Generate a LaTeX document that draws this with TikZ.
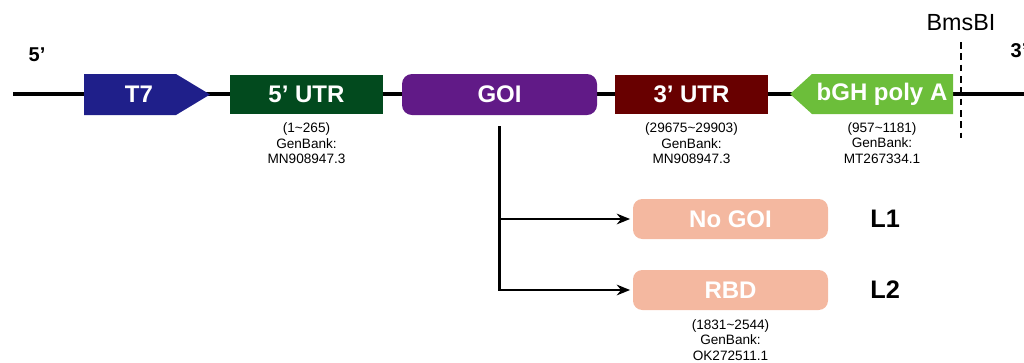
\documentclass[tikz,border=0pt]{standalone}
\usepackage{fontspec}
\setmainfont{Liberation Sans}
\usetikzlibrary{arrows.meta, positioning}
\definecolor{tSevenBlue}{RGB}{31,31,138}
\definecolor{utrFiveGreen}{RGB}{2,74,30}
\definecolor{goiPurple}{RGB}{97,26,135}
\definecolor{utrThreeRed}{RGB}{104,0,0}
\definecolor{polyAGreen}{RGB}{108,190,58}
\definecolor{constructSalmon}{RGB}{244,184,160}
\tikzset{
    backbone/.style={draw=black, line width=2.6pt},
    element/.style={text=white, inner sep=0pt, minimum height=29.5pt, font=\bfseries\fontsize{18}{21}\selectfont},
    square box/.style={element, rectangle, minimum width=114.75pt},
    round box/.style={element, rectangle, rounded corners=7.5pt, minimum width=146.25pt, minimum height=30.75pt},
    note/.style={align=center, inner sep=0pt, font=\fontsize{10.2}{11.7}\selectfont},
    cut line/.style={draw=black, line width=1pt, dash pattern=on 5pt off 3.5pt},
    branch/.style={draw=black, line width=1.7pt, -{Stealth[length=10pt, width=8pt]}, shorten >=2pt},
    end label/.style={font=\bfseries\fontsize{15}{18}\selectfont},
    lane label/.style={font=\bfseries\fontsize{19}{22}\selectfont}
}

\begin{document}
\begin{tikzpicture}[x=0.75pt, y=-0.75pt]
    % Fix the page to the size of the figure
    \useasboundingbox (0,0) rectangle (1024,362);

    % Draw the backbone
    \coordinate (left end) at (13,94);
    \coordinate (right end) at (1030,94);
    \draw[backbone] (left end) -- (right end);

    % Draw the T7 promoter and the bGH poly A as arrows
    \fill[tSevenBlue] (84,74) -- (176,74) -- (210,94.5) -- (176,115) -- (84,115) -- cycle;
    \node[element] (t7) at (139,94.5) {T7};
    \fill[polyAGreen] (953,74) -- (812,74) -- (790,94) -- (812,114) -- (953,114) -- cycle;
    \node[element] (polyA) at (882,94) {bGH poly A};

    % Draw the boxes on the backbone
    \node[square box, fill=utrFiveGreen] (utr5) at (306.5,94.5) {5' UTR};
    \node[round box, fill=goiPurple] (goi) at (499.5,94.5) {GOI};
    \node[square box, fill=utrThreeRed] (utr3) at (691.5,94.5) {3' UTR};

    % Sources of the sequences
    \node[note, below=6pt of utr5] (utr5 src) {(1\textasciitilde265)\\GenBank:\\MN908947.3};
    \node[note, below=6pt of utr3] (utr3 src) {(29675\textasciitilde29903)\\GenBank:\\MN908947.3};
    \node[note, below=6pt of polyA] (polyA src) {(957\textasciitilde1181)\\GenBank:\\MT267334.1};

    % BmsBI site
    \coordinate (cut top) at (961,42);
    \coordinate (cut bottom) at (961,138);
    \draw[cut line] (cut top) -- (cut bottom);
    \node[font=\fontsize{17.5}{20}\selectfont] (bsmbi) at (961,23) {BmsBI};

    % Ends of the strand
    \node[end label] (five end) at (37,55) {5'};
    \node[end label, anchor=west] (three end) at (1006,51) {3'};

    % Draw the two constructs
    \node[round box, fill=constructSalmon, minimum height=30pt, rounded corners=7pt] (nogoi) at (730.5,219) {No GOI};
    \node[round box, fill=constructSalmon, minimum height=30pt, rounded corners=7pt] (rbd) at (730.5,290) {RBD};
    \node[lane label, right=28pt of nogoi] (l1) {L1};
    \node[lane label, right=28pt of rbd] (l2) {L2};
    \node[note, below=6.5pt of rbd] (rbd src) {(1831\textasciitilde2544)\\GenBank:\\OK272511.1};

    % Branches from the GOI
    \coordinate[below=8.25pt of goi] (split);
    \draw[branch] (split) |- (nogoi.west);
    \draw[branch] (split) |- (rbd.west);
\end{tikzpicture}
\end{document}
